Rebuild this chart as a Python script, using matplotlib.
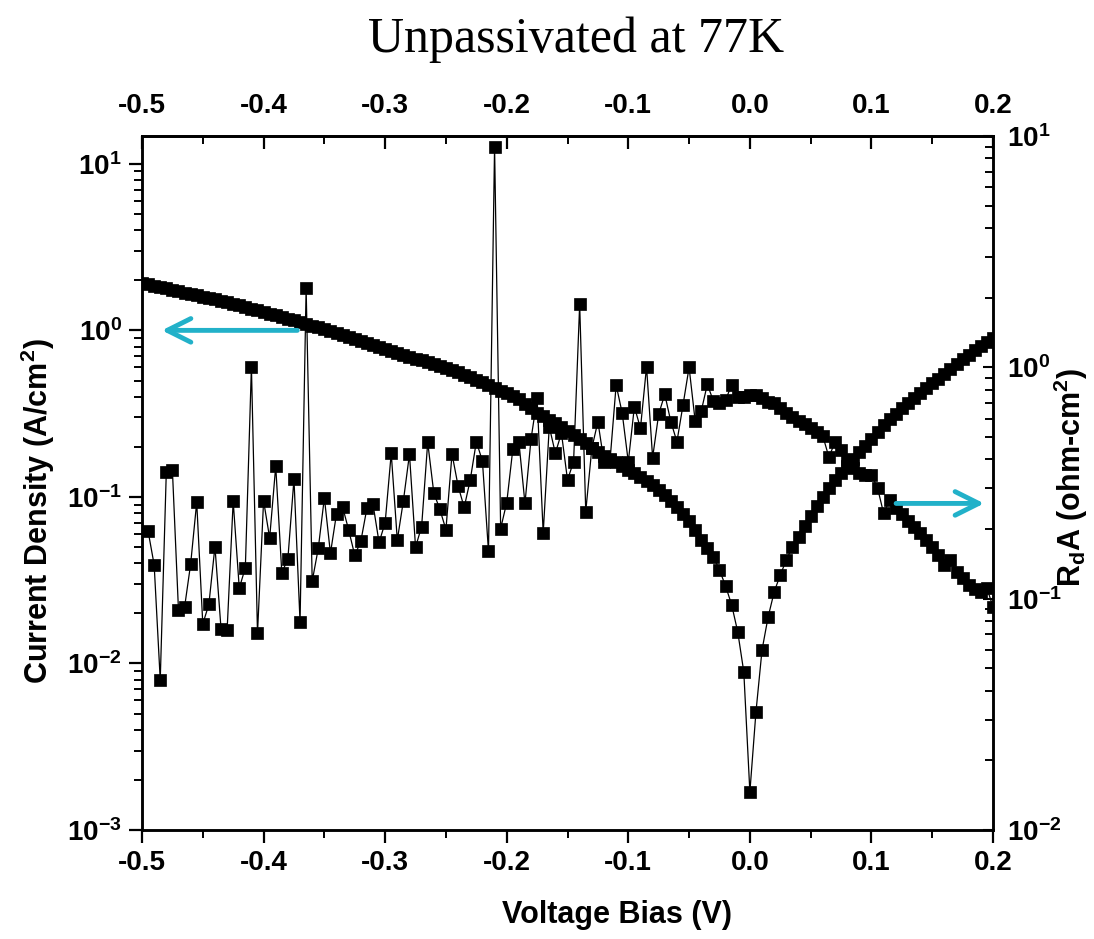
import matplotlib
matplotlib.use("Agg")
import matplotlib.pyplot as plt
import numpy as np
from matplotlib.ticker import (FixedLocator, FormatStrFormatter, LogLocator,
                               NullFormatter)

plt.rcParams["font.family"] = ["Liberation Sans", "DejaVu Sans"]
plt.rcParams["font.weight"] = "bold"
plt.rcParams["mathtext.fontset"] = "custom"
plt.rcParams["mathtext.rm"] = "Liberation Sans:bold"
plt.rcParams["mathtext.bf"] = "Liberation Sans:bold"
plt.rcParams["mathtext.it"] = "Liberation Sans:bold"
plt.rcParams["mathtext.default"] = "bf"

# --- data ---
bias_j = np.round(np.linspace(-0.5, 0.2, 141), 3)
current_density = [
    1.929, 1.892, 1.856, 1.823, 1.788, 1.754, 1.720, 1.687, 1.654, 1.625,
    1.594, 1.563, 1.533, 1.504, 1.477, 1.445, 1.411, 1.380, 1.348, 1.317,
    1.288, 1.258, 1.229, 1.200, 1.174, 1.147, 1.120, 1.092, 1.069, 1.042,
    1.017, 0.992, 0.965, 0.938, 0.912, 0.887, 0.862, 0.839, 0.815, 0.793,
    0.771, 0.750, 0.731, 0.713, 0.695, 0.677, 0.660, 0.643, 0.628, 0.612,
    0.596, 0.582, 0.562, 0.542, 0.523, 0.504, 0.487, 0.470, 0.453, 0.435,
    0.418, 0.401, 0.386, 0.362, 0.340, 0.321, 0.306, 0.291, 0.277, 0.264,
    0.250, 0.236, 0.223, 0.210, 0.198, 0.187, 0.177, 0.169, 0.161, 0.1535,
    0.146, 0.139, 0.132, 0.125, 0.118, 0.110, 0.1028, 0.0946, 0.0871, 0.0790,
    0.0718, 0.0634, 0.0552, 0.0494, 0.0436, 0.0364, 0.0292, 0.0225, 0.0155, 0.00889,
    0.00169, 0.00511, 0.01205, 0.0190, 0.0269, 0.0340, 0.0418, 0.0501, 0.0575, 0.0670,
    0.0769, 0.0883, 0.100, 0.1133, 0.1265, 0.139, 0.1535, 0.169, 0.1864, 0.2024,
    0.223, 0.2457, 0.2706, 0.294, 0.315, 0.342, 0.367, 0.393, 0.421, 0.452,
    0.484, 0.511, 0.548, 0.587, 0.629, 0.674, 0.713, 0.764, 0.807, 0.853,
    0.902,
]

bias_r = np.round(np.linspace(-0.495, 0.2, 140), 3)
rda = [
    0.196, 0.140, 0.0445, 0.354, 0.360, 0.0893, 0.0917, 0.141, 0.261, 0.0777,
    0.0945, 0.168, 0.0741, 0.0729, 0.264, 0.111, 0.136, 1.006, 0.0708, 0.265,
    0.183, 0.374, 0.129, 0.149, 0.329, 0.0792, 2.20, 0.119, 0.165, 0.273,
    0.157, 0.233, 0.249, 0.198, 0.154, 0.177, 0.246, 0.256, 0.175, 0.213,
    0.425, 0.179, 0.265, 0.421, 0.167, 0.205, 0.474, 0.287, 0.243, 0.199,
    0.422, 0.307, 0.248, 0.326, 0.477, 0.394, 0.160, 8.99, 0.201, 0.260,
    0.442, 0.477, 0.258, 0.490, 0.734, 0.192, 0.554, 0.425, 0.520, 0.326,
    0.391, 1.87, 0.238, 0.447, 0.582, 0.391, 0.397, 0.839, 0.633, 0.390,
    0.676, 0.545, 1.006, 0.407, 0.628, 0.764, 0.582, 0.477, 0.687, 1.0,
    0.586, 0.647, 0.844, 0.715, 0.701, 0.722, 0.839, 0.744, 0.744, 0.759,
    0.759, 0.737, 0.708, 0.699, 0.665, 0.633, 0.612, 0.586, 0.569, 0.547,
    0.525, 0.505, 0.409, 0.475, 0.439, 0.397, 0.367, 0.349, 0.342, 0.342,
    0.301, 0.234, 0.267, 0.246, 0.232, 0.217, 0.204, 0.192, 0.179, 0.167,
    0.154, 0.140, 0.147, 0.130, 0.123, 0.115, 0.110, 0.107, 0.111, 0.092,
]

x_major = [-0.5, -0.4, -0.3, -0.2, -0.1, 0.0, 0.1, 0.2]
x_minor = [-0.45, -0.35, -0.25, -0.15, -0.05, 0.05, 0.15]

CYAN = "#22b1c9"

fig = plt.figure(figsize=(10.94, 9.39), dpi=100)
ax = fig.add_axes([0.1298, 0.1161, 0.7779, 0.7391])
ax2 = ax.twinx()

style = dict(color="black", lw=0.9, marker="s", ms=9, mec="black", mfc="black", mew=0.5)
ax.plot(bias_j, current_density, **style)
ax2.plot(bias_r, rda, **style)

ax.set_xlim(-0.5, 0.2)
ax.set_yscale("log")
ax.set_ylim(1e-3, 14.7)
ax2.set_yscale("log")
ax2.set_ylim(1e-2, 10)

for a in (ax, ax2):
    a.yaxis.set_major_locator(LogLocator(base=10, numticks=10))
    a.yaxis.set_minor_locator(LogLocator(base=10, subs=np.arange(2, 10), numticks=20))
    a.yaxis.set_minor_formatter(NullFormatter())

ax.xaxis.set_major_locator(FixedLocator(x_major))
ax.xaxis.set_minor_locator(FixedLocator(x_minor))
ax.xaxis.set_major_formatter(FormatStrFormatter("%.1f"))

ax.tick_params(axis="both", which="major", direction="out", length=9.5, width=1.6,
               labelsize=20, top=False, right=False, pad=5)
ax.tick_params(axis="both", which="minor", direction="out", length=6, width=1.4,
               top=False, right=False)
ax2.tick_params(axis="y", which="major", direction="in", length=7, width=1.5,
                labelsize=20, pad=10)
ax2.tick_params(axis="y", which="minor", direction="in", length=6, width=1.4)

top = ax.secondary_xaxis("top")
top.xaxis.set_major_locator(FixedLocator(x_major))
top.xaxis.set_minor_locator(FixedLocator(x_minor))
top.xaxis.set_major_formatter(FormatStrFormatter("%.1f"))
top.tick_params(which="major", direction="in", length=9.5, width=1.6, labelsize=20, pad=12)
top.tick_params(which="minor", direction="in", length=6, width=1.4)

for a in (ax, ax2):
    for s in a.spines.values():
        s.set_linewidth(1.8)
top.spines["top"].set_linewidth(1.8)

# arrows pointing at the matching axis
arrow = dict(arrowstyle="->,head_length=1.7,head_width=0.85", color=CYAN, lw=3.5)
ax.annotate("", xy=(-0.486, 1.0), xytext=(-0.37, 1.0), arrowprops=arrow)
ax2.annotate("", xy=(0.195, 0.258), xytext=(0.118, 0.258), arrowprops=arrow)

fig.text(576 / 1094, 1 - 40 / 939, "Unpassivated at 77K", ha="center", va="center",
         fontsize=36, fontweight="normal", family=["Liberation Serif", "DejaVu Serif"])
fig.text(617 / 1094, 1 - 915 / 939, "Voltage Bias (V)", ha="center", va="center",
         fontsize=22, fontweight="bold")
fig.text(38 / 1094, 1 - 511 / 939, r"Current Density (A/cm$^{2}$)", ha="center",
         va="center", rotation=90, fontsize=22, fontweight="bold")
fig.text(1071 / 1094, 1 - 477 / 939, r"R$_{d}$A (ohm-cm$^{2}$)", ha="center",
         va="center", rotation=90, fontsize=22, fontweight="bold")

fig.savefig("out.png", dpi=100)
